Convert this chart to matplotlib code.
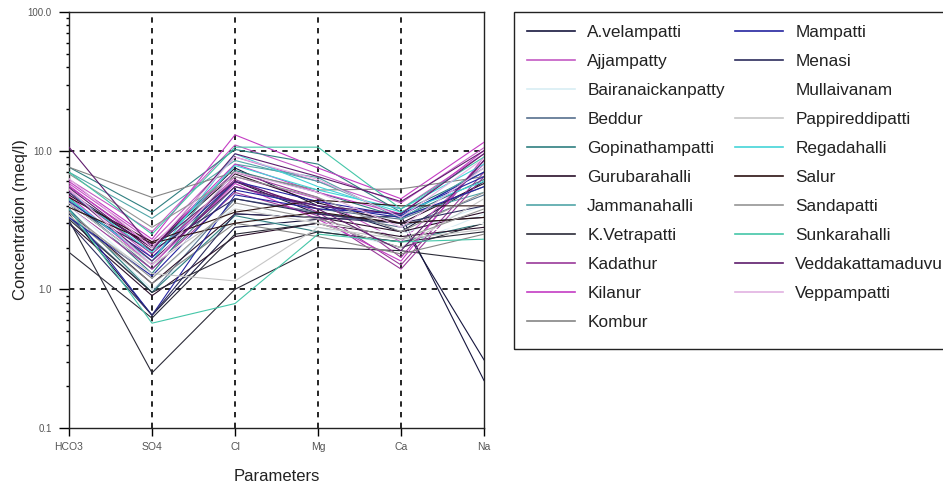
import matplotlib
matplotlib.use("Agg")
import matplotlib.pyplot as plt
from matplotlib.lines import Line2D
from matplotlib.patches import Rectangle
from matplotlib.ticker import FixedLocator, LogLocator, NullFormatter

plt.rcParams['font.family'] = ['Liberation Sans', 'DejaVu Sans']

# ---- data -------------------------------------------------------------
parameters = ["HCO3", "SO4", "Cl", "Mg", "Ca", "Na"]

villages = ["A.velampatti", "Ajjampatty", "Bairanaickanpatty", "Beddur",
            "Gopinathampatti", "Gurubarahalli", "Jammanahalli", "K.Vetrapatti",
            "Kadathur", "Kilanur", "Kombur", "Mampatti", "Menasi", "Mullaivanam",
            "Pappireddipatti", "Regadahalli", "Salur", "Sandapatti",
            "Sunkarahalli", "Veddakattamaduvu", "Veppampatti"]

village_colors = ["#16163e", "#c45ac4", "#d8eef4", "#56708e",
                  "#2f7f80", "#2a102a", "#52a6a8", "#2b2b38",
                  "#9a3a9a", "#c43cc4", "#858585", "#2424a0", "#2c2c5c", "#ffffff",
                  "#c6c6c6", "#44d4d8", "#2c1212", "#959595",
                  "#44c6a8", "#5e1c6c", "#e2b2e2"]

# village of each sample (one line per sample)
sample_village = ["A.velampatti", "A.velampatti", "A.velampatti",
                  "Ajjampatty", "Ajjampatty", "Ajjampatty",
                  "Bairanaickanpatty", "Bairanaickanpatty",
                  "Beddur", "Beddur",
                  "Gopinathampatti", "Gopinathampatti", "Gopinathampatti",
                  "Gurubarahalli", "Gurubarahalli", "Gurubarahalli",
                  "Jammanahalli", "Jammanahalli",
                  "K.Vetrapatti", "K.Vetrapatti", "K.Vetrapatti",
                  "Kadathur", "Kadathur", "Kadathur",
                  "Kilanur", "Kilanur", "Kilanur",
                  "Kombur", "Kombur",
                  "Mampatti", "Mampatti", "Mampatti",
                  "Menasi", "Menasi",
                  "Mullaivanam",
                  "Pappireddipatti", "Pappireddipatti",
                  "Regadahalli", "Regadahalli",
                  "Salur", "Salur",
                  "Sandapatti", "Sandapatti",
                  "Sunkarahalli", "Sunkarahalli",
                  "Veddakattamaduvu", "Veddakattamaduvu", "Veddakattamaduvu",
                  "Veppampatti", "Veppampatti"]

hco3 = [4.2, 3.5, 5.0, 5.8, 5.2, 6.2, 4.0, 3.6, 4.5, 3.3, 7.6, 4.6, 3.8,
        3.6, 4.8, 3.0, 7.0, 4.4, 3.15, 1.85, 3.2, 5.5, 5.0, 4.0, 6.0, 5.6,
        4.7, 7.6, 3.4, 4.3, 3.8, 3.3, 3.0, 4.0, 4.0, 3.4, 4.2, 4.5, 5.0,
        3.9, 4.6, 6.8, 3.6, 3.8, 7.0, 5.4, 10.6, 5.0, 5.3, 6.3]
so4 = [1.5, 0.65, 2.0, 2.2, 1.7, 2.6, 1.2, 1.0, 1.4, 0.95, 3.6, 1.3, 0.95,
       1.1, 2.0, 0.9, 3.25, 1.6, 0.25, 0.62, 0.95, 2.1, 1.8, 1.4, 2.3, 2.0,
       1.5, 4.6, 1.1, 1.7, 0.65, 1.25, 0.65, 1.9, 1.5, 1.3, 1.5, 1.6, 1.85,
       2.15, 2.2, 2.8, 1.2, 0.57, 2.5, 1.9, 2.0, 1.6, 1.5, 2.0]
cl = [6.0, 2.8, 7.5, 9.0, 6.5, 11.0, 4.0, 3.2, 5.5, 4.5, 10.2, 7.2, 3.4,
      3.5, 6.8, 2.4, 8.5, 8.0, 1.0, 2.5, 1.8, 7.0, 6.2, 5.0, 13.0, 8.0,
      5.8, 7.0, 3.0, 6.0, 4.8, 5.2, 3.5, 4.5, 4.0, 1.15, 3.8, 9.5, 7.8,
      3.0, 3.6, 6.5, 4.2, 0.79, 10.6, 9.5, 6.0, 5.5, 7.0, 9.0]
mg = [3.5, 3.2, 4.0, 6.0, 4.5, 6.8, 3.0, 2.8, 3.8, 3.6, 8.0, 5.0, 2.6,
      3.3, 4.2, 3.0, 6.0, 6.4, 2.0, 3.0, 2.6, 4.6, 3.6, 3.4, 7.5, 5.0,
      3.2, 5.2, 2.4, 4.3, 3.8, 4.0, 3.3, 3.5, 3.0, 2.8, 3.0, 5.5, 5.2,
      3.6, 4.4, 4.6, 3.2, 2.5, 10.6, 6.5, 3.8, 4.0, 5.0, 6.2]
ca = [3.0, 3.4, 2.6, 3.8, 2.2, 4.2, 2.5, 2.0, 3.2, 2.8, 3.6, 3.3, 2.2,
      2.6, 3.0, 2.4, 3.4, 3.2, 1.9, 2.0, 2.2, 1.7, 1.5, 1.4, 4.5, 3.5,
      1.6, 5.3, 1.8, 3.4, 3.5, 3.3, 3.0, 3.0, 2.5, 2.3, 2.0, 3.6, 3.8,
      3.0, 4.0, 2.6, 2.3, 2.2, 3.8, 4.3, 1.9, 3.5, 2.8, 3.3]
na = [0.31, 0.22, 6.0, 9.5, 8.0, 10.5, 4.0, 3.5, 5.5, 4.8, 7.0, 6.2, 3.0,
      3.6, 5.8, 2.8, 5.0, 7.5, 1.6, 3.0, 2.6, 8.5, 7.0, 6.5, 11.5, 10.0,
      9.0, 6.5, 2.5, 7.0, 6.5, 5.5, 4.0, 3.3, 3.0, 2.7, 4.5, 6.0, 8.0,
      3.3, 4.0, 5.0, 3.8, 2.3, 9.0, 10.0, 8.5, 9.5, 7.5, 8.8]

y_ticks = [0.1, 1.0, 10.0, 100.0]
y_ticklabels = ["0.1", "1.0", "10.0", "100.0"]

# ---- figure -----------------------------------------------------------
W, H = 943, 487
fig = plt.figure(figsize=(W / 100, H / 100), dpi=100)
ax = fig.add_axes([69 / W, 1 - 428 / H, (484 - 69) / W, (428 - 12) / H])

color_of = dict(zip(villages, village_colors))
xs = list(range(len(parameters)))
for i, v in enumerate(sample_village):
    ys = [hco3[i], so4[i], cl[i], mg[i], ca[i], na[i]]
    ax.plot(xs, ys, color=color_of[v], lw=0.8, zorder=3)

ax.set_yscale("log")
ax.set_ylim(0.1, 100)
ax.set_xlim(0, len(parameters) - 1)

# grid (dashed) at interior positions
for x in xs[1:-1]:
    ax.axvline(x, color="black", lw=1.2, ls=(0, (3.2, 3.2)), zorder=2)
for y in [1.0, 10.0]:
    ax.axhline(y, color="black", lw=1.2, ls=(0, (3.2, 3.2)), zorder=2)

ax.set_xticks(xs)
ax.set_xticklabels(parameters)
ax.yaxis.set_major_locator(FixedLocator(y_ticks))
ax.set_yticklabels(y_ticklabels)
ax.yaxis.set_minor_locator(LogLocator(base=10, subs=range(2, 10)))
ax.yaxis.set_minor_formatter(NullFormatter())
ax.tick_params(axis="x", which="major", direction="out", length=6, width=1,
               labelsize=7.5, labelcolor="#555555", pad=4)
ax.tick_params(axis="y", which="major", direction="out", length=7.5, width=1,
               labelsize=7, labelcolor="#555555", pad=5)
ax.tick_params(axis="y", which="minor", direction="out", length=2.5, width=1)
for s in ax.spines.values():
    s.set_linewidth(1.0)
    s.set_color("#222222")

ax.set_xlabel("Parameters", fontsize=12, color="#222222", labelpad=12)
ax.set_ylabel("Concentration (meq/l)", fontsize=12, color="#222222", labelpad=0)

# legend (frame drawn separately: it runs past the right edge of the figure)
handles = [Line2D([0], [0], color=c, lw=1.2) for c in village_colors]
leg = fig.legend(handles, villages, loc="upper left",
                 bbox_to_anchor=(514 / W, 1 - 12 / H), borderaxespad=0,
                 ncol=2, fontsize=12.4, frameon=False,
                 handlelength=2.8, handletextpad=0.7,
                 columnspacing=0.6, labelspacing=0.81, borderpad=0.75)
for t in leg.get_texts():
    t.set_color("#222222")
fig.add_artist(Rectangle((514 / W, 1 - 349 / H), (960 - 514) / W, (349 - 12) / H,
                         transform=fig.transFigure, fill=False,
                         edgecolor="#222222", lw=1.0, clip_on=False))

fig.savefig("out.png", dpi=100)
